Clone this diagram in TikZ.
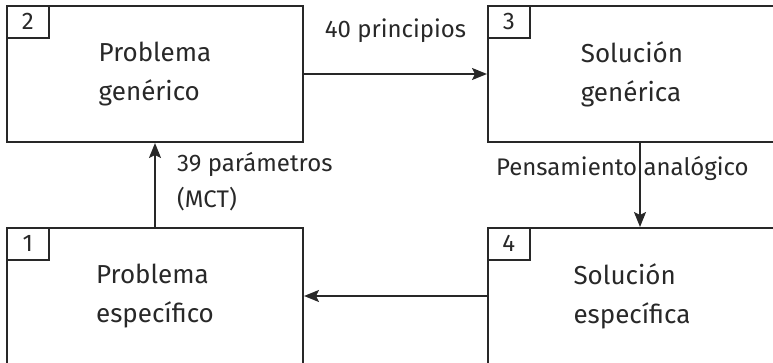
\documentclass[tikz,border=0pt]{standalone}
\usepackage{fontspec}
\setmainfont{Fira Sans}
\usetikzlibrary{arrows.meta, positioning, calc}
\definecolor{InkGray}{RGB}{40,40,40}
\newlength\penslen

\begin{document}
\settowidth{\penslen}{\fontsize{24}{36}\selectfont Pensamiento}%
\begin{tikzpicture}[x=1pt,y=1pt,
  box/.style={draw=InkGray, line width=2pt, minimum width=296pt, minimum height=136pt, align=left, inner sep=0pt, text=InkGray, font=\fontsize{26}{39}\selectfont},
  numbox/.style={draw=InkGray, line width=1.6pt, minimum width=42pt, minimum height=32pt, inner sep=0pt, anchor=north west, text=InkGray, font=\fontsize{24}{28}\selectfont},
  lbl/.style={text=InkGray, align=left, inner sep=0pt, font=\fontsize{24}{36}\selectfont},
  flow/.style={InkGray, line width=2pt, -{Stealth[length=15pt,width=12pt,inset=3pt]}}]
\useasboundingbox (0,0) rectangle (773,-363);
% the four boxes
\node[box] (PG) at (155,-74) {Problema\\genérico};
\node[box, minimum width=288pt, right=183pt of PG] (SG) {Solución\\genérica};
\node[box, below=84pt of PG] (PE) {Problema\\específico};
\node[box, minimum width=288pt, below=84pt of SG] (SE) {Solución\\específica};
% step numbers
\node[numbox] (N2) at (PG.north west) {2};
\node[numbox] (N3) at (SG.north west) {3};
\node[numbox] (N1) at (PE.north west) {1};
\node[numbox] (N4) at (SE.north west) {4};
% connectors
\coordinate (PA) at ($(SG.south)+(8,0)$);
\draw[flow] (PG) -- (SG);
\draw[flow] (PE) -- (PG);
\draw[flow] (PA) -- (PA |- SE.north);
\draw[flow] (SE) -- (PE);
% labels
\coordinate (PB) at (PA |- 0,-176);
\node[lbl, anchor=base] (L40) at ($(PG.east)!0.5!(SG.west)+(0,36)$) {40 principios};
\node[lbl, anchor=base west] (L39) at (177,-208) {39 parámetros\\(MCT)};
\node[lbl, anchor=base west, xshift=-\penslen-3pt] (LPA) at (PB) {Pensamiento analógico};
\end{tikzpicture}
\end{document}
